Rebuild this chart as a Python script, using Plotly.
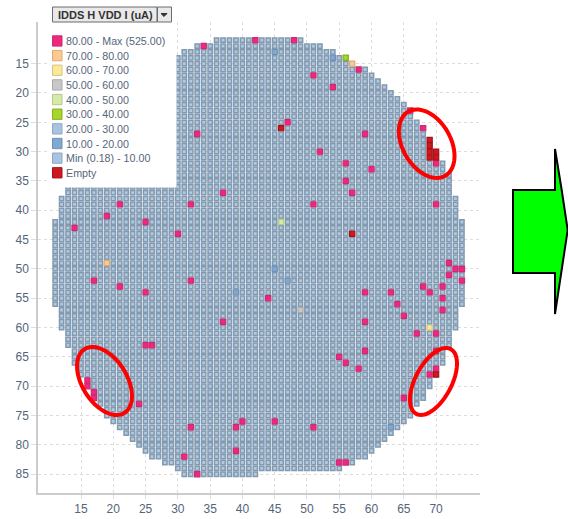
import numpy as np
import plotly.graph_objects as go

W, H = 568, 519
L, R, T, B = 38, 480, 22, 493

columns = list(range(11, 75))
col_top = [42, 38, 34, 32, 30, 28, 26, 25, 23, 22, 21, 20, 19, 18, 17, 16, 16, 15, 14, 14,
           13, 13, 12, 12, 12, 11, 11, 11, 11, 11, 11, 11, 11, 11, 11, 11, 11, 11, 11, 12,
           12, 12, 13, 13, 14, 14, 15, 16, 16, 17, 18, 19, 20, 21, 22, 23, 25, 26, 28, 30,
           32, 34, 38, 42]
col_bottom = [56, 60, 63, 66, 68, 70, 72, 73, 75, 76, 77, 78, 79, 80, 81, 82, 82, 83, 83, 84,
              85, 85, 85, 85, 85, 85, 85, 85, 85, 85, 85, 85, 84, 84, 84, 84, 84, 84, 84, 84,
              84, 84, 84, 84, 84, 83, 83, 82, 82, 81, 80, 79, 78, 77, 76, 75, 73, 72, 70, 68,
              66, 63, 60, 56]

bin_labels = ["80.00 - Max (525.00)", "70.00 - 80.00", "60.00 - 70.00", "50.00 - 60.00", "40.00 - 50.00",
              "30.00 - 40.00", "20.00 - 30.00", "10.00 - 20.00", "Min (0.18) - 10.00", "Empty"]
bin_fill = ["#f0277f", "#fdc98f", "#fbe99a", "#c8c8c8", "#d6eaa5", "#a6d628", "#aecae6", "#80a8d0", "#a9c4e0", "#cc1a20"]
bin_line = ["#cc2a72", "#d9ab78", "#d6c47a", "#aaaaaa", "#b4c98a", "#86ae20", "#8299ae", "#6f90b5", "#8ea9c5", "#a81018"]

high_cells = [(34,12),(42,11),(48,11),(58,16),(51,17),(54,19),(33,27),(59,27),(47,25),(52,30),(56,32),(56,35),
              (60,33),(66,23),(68,26),(70,32),(37,37),(21,39),(32,39),(19,41),(25,42),(14,43),(30,44),(17,52),
              (32,52),(21,53),(25,54),(37,59),(25,63),(26,63),(16,69),(16,70),(17,71),(17,72),(24,73),(32,77),
              (31,82),(33,85),(55,65),(59,64),(56,66),(58,67),(70,64),(70,67),(69,68),(65,72),(40,76),(39,77),
              (39,81),(45,76),(51,77),(55,83),(56,83),(70,39),(72,49),(73,50),(74,50),(72,51),(74,52),(68,53),
              (71,53),(63,54),(69,54),(71,55),(64,56),(65,58),(71,57),(67,61),(70,61),(57,37),(51,39),(44,55),
              (59,54),(59,59)]
band_70_80 = [(57,15),(19,49)]
band_60_70 = [(69,60)]
band_50_60 = [(49,57)]
band_40_50 = [(46,42)]
band_30_40 = [(56,14)]
band_10_20 = [(45,13),(54,14),(63,77),(45,50),(47,52),(39,54)]
empty_cells = [(46,26),(57,44),(69,28),(69,29),(69,30),(69,31),(70,30),(70,31),(70,68)]

x_ticks = list(range(15, 75, 5))
y_ticks = list(range(15, 90, 5))

special = set(high_cells + band_70_80 + band_60_70 + band_50_60 + band_40_50 + band_30_40 + band_10_20 + empty_cells)
base_cells = [(c, r) for c, t, b in zip(columns, col_top, col_bottom) for r in range(t, b + 1) if (c, r) not in special]

fig = go.Figure()
def add(cells, i, size=5.2, lw=1.2):
    fig.add_trace(go.Scatter(x=[p[0] for p in cells], y=[p[1] for p in cells], mode="markers", name=bin_labels[i],
                             showlegend=False, hoverinfo="skip",
                             marker=dict(symbol="square", size=size, color=bin_fill[i], line=dict(color=bin_line[i], width=lw))))
add(base_cells, 6, 4.3, 1.5)
add(band_10_20, 7)
add(band_30_40, 5)
add(band_40_50, 4)
add(band_50_60, 3)
add(band_60_70, 2)
add(band_70_80, 1)
add(high_cells, 0)
add(empty_cells, 9)

def px(x):
    return (x - L) / (R - L)
def py(y):
    return (B - y) / (B - T)

def rect(x0, y0, x1, y1, fill, line=None, lw=1):
    return dict(type="rect", xref="paper", yref="paper", x0=px(x0), x1=px(x1), y0=py(y0), y1=py(y1),
                fillcolor=fill, line=dict(color=line or fill, width=lw), layer="above")

def polygon(points, fill, line=None, lw=1):
    d = "M" + " L".join(f"{px(a):.5f},{py(b):.5f}" for a, b in points) + " Z"
    return dict(type="path", xref="paper", yref="paper", path=d, fillcolor=fill,
                line=dict(color=line or fill, width=lw), layer="above")

def ellipse(cx, cy, a, b, deg):
    t = np.linspace(0, 2 * np.pi, 72, endpoint=False)
    ang = np.radians(deg)
    xs = cx + a * np.cos(t) * np.cos(ang) - b * np.sin(t) * np.sin(ang)
    ys = cy + a * np.cos(t) * np.sin(ang) + b * np.sin(t) * np.cos(ang)
    d = "M" + " L".join(f"{px(p):.5f},{py(q):.5f}" for p, q in zip(xs, ys)) + " Z"
    return dict(type="path", xref="paper", yref="paper", path=d, fillcolor="rgba(0,0,0,0)",
                line=dict(color="#ff0000", width=4), layer="above")

shapes = [rect(49, 23, 176, 187, "#ffffff")]
annotations = []
for i, lab in enumerate(bin_labels):
    top = 35.8 + i * 14.65
    shapes.append(rect(52.5, top, 62, top + 10.3, bin_fill[i] if i != 6 else "#a9c4e0", bin_line[i] if i != 6 else "#8ea9c5"))
    annotations.append(dict(xref="paper", yref="paper", x=px(64.3), y=py(top + 5.2), text=lab, showarrow=False,
                            xanchor="left", yanchor="middle", font=dict(size=10.7, color="#56667a", family="Liberation Sans")))

shapes += [
    rect(52.5, 7, 157, 22, "#e9e9e9", "#6b6b6b"),
    rect(157.5, 7, 171.5, 22, "#e9e9e9", "#6b6b6b"),
    polygon([(161, 13.5), (167, 13.5), (164, 16.5)], "#333333"),
    polygon([(513, 190), (555, 190), (555, 149), (561.7, 190), (567.7, 230), (555, 314), (555, 273), (513, 273)],
            "#00ff00", "#000000", 2),
    ellipse(426.7, 143.7, 37, 24, 60),
    ellipse(104.5, 381, 37.6, 22.3, 58),
    ellipse(433.5, 381.5, 36.7, 18.1, -62),
]
annotations.append(dict(xref="paper", yref="paper", x=px(105), y=py(14.8), text="<b>IDDS H VDD I (uA)</b>", showarrow=False,
                        xanchor="center", yanchor="middle", font=dict(size=11, color="#333333", family="Liberation Sans")))

axis_common = dict(showgrid=True, gridcolor="#dddddd", gridwidth=1, griddash="dot", zeroline=False, automargin=False,
                   showline=True, linecolor="#cccccc", linewidth=1.5, ticks="outside", tickcolor="#dddddd",
                   tickfont=dict(size=12, color="#54657a", family="Liberation Sans"))
fig.update_layout(
    width=W, height=H, margin=dict(l=L, r=W - R, t=T, b=H - B), paper_bgcolor="#ffffff", plot_bgcolor="#ffffff",
    showlegend=False, shapes=shapes, annotations=annotations,
    xaxis=dict(range=[8.34, 76.8], tickvals=x_ticks, ticklen=4, **axis_common),
    yaxis=dict(range=[88.2, 7.9], tickvals=y_ticks, ticklen=5, **axis_common),
)
fig.write_html("out.html", config={"displayModeBar": False},
               post_script="document.body.style.margin='0';document.body.style.overflow='hidden';")
